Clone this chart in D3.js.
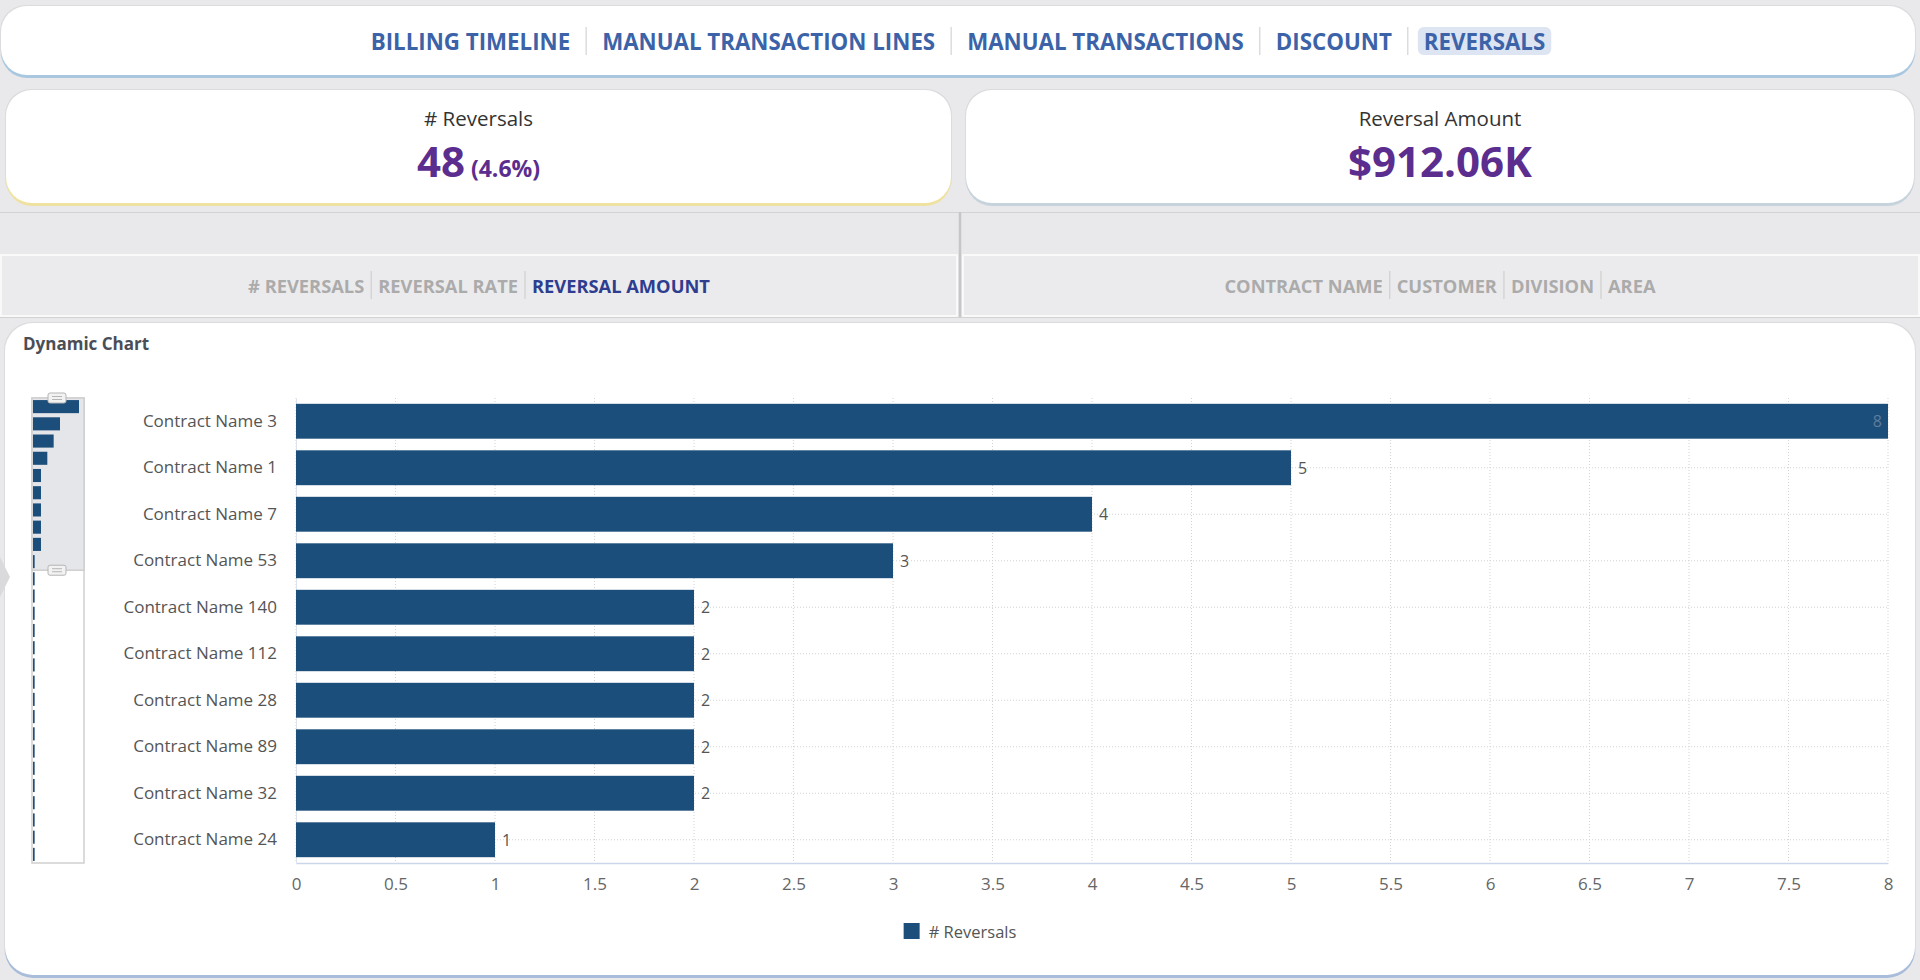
<!DOCTYPE html>
<html>
<head>
<meta charset="utf-8">
<script src="https://cdn.jsdelivr.net/npm/d3@7"></script>
<style>
  html, body { margin: 0; padding: 0; background: #e9e9eb; overflow: hidden; }
  svg { display: block; font-family: "Open Sans", sans-serif; }
</style>
</head>
<body>
<svg id="page"></svg>
<script>
var W = 1920, H = 980;

// ---- data ----
var navTabs = ["BILLING TIMELINE", "MANUAL TRANSACTION LINES", "MANUAL TRANSACTIONS", "DISCOUNT", "REVERSALS"];
var activeNav = "REVERSALS";
var measureTabs = ["# REVERSALS", "REVERSAL RATE", "REVERSAL AMOUNT"];
var activeMeasure = "REVERSAL AMOUNT";
var groupTabs = ["CONTRACT NAME", "CUSTOMER", "DIVISION", "AREA"];

var kpiLabels = ["# Reversals", "Reversal Amount"];
var kpiValues = ["48", "$912.06K"];
var kpiNotes = ["(4.6%)", ""];

var contracts = ["Contract Name 3", "Contract Name 1", "Contract Name 7", "Contract Name 53",
  "Contract Name 140", "Contract Name 112", "Contract Name 28", "Contract Name 89",
  "Contract Name 32", "Contract Name 24"];
var reversals = [8, 5, 4, 3, 2, 2, 2, 2, 2, 1];
// whole list shown in the navigator on the left (first 10 = visible window)
var allReversals = [8, 5, 4, 3, 2, 2, 2, 2, 2, 1, 1, 1, 1, 1, 1, 1, 1, 1, 1, 1, 1, 1, 1, 1, 1, 1, 1];
var xTicks = [0, 0.5, 1, 1.5, 2, 2.5, 3, 3.5, 4, 4.5, 5, 5.5, 6, 6.5, 7, 7.5, 8];
var seriesName = "# Reversals";

var barColor = "#1c4e7b";

var svg = d3.select("#page").attr("width", W).attr("height", H);

svg.append("rect").attr("width", W).attr("height", H).attr("fill", "#e9e9eb");

//draws a white rounded card with a coloured strip under it
var card = function(x, y, w, h, r, shade)
{
    svg.append("rect").attr("x", x - 1).attr("y", y - 1).attr("width", w + 2).attr("height", h + 2)
        .attr("rx", r).attr("fill", "#dcdcdf");
    svg.append("rect").attr("x", x).attr("y", y + 3).attr("width", w).attr("height", h)
        .attr("rx", r).attr("fill", shade);
    svg.append("rect").attr("x", x).attr("y", y).attr("width", w).attr("height", h)
        .attr("rx", r).attr("fill", "#fff");
};

//lays a row of tab labels out round a centre, with thin separators
var tabRow = function(labels, cx, cy, size, gap, color, sepColor, sepH)
{
    var g = svg.append("g");
    var texts = g.selectAll("text").data(labels).join("text")
        .attr("y", cy)
        .attr("dominant-baseline", "central")
        .attr("font-size", size)
        .attr("font-weight", 700)
        .attr("fill", color)
        .text(function(d) { return d; });
    var widths = [];
    texts.each(function() { widths.push(this.getComputedTextLength()); });
    var total = d3.sum(widths) + 2 * gap * (labels.length - 1);
    var x = cx - total / 2;
    var pos = [];
    texts.each(function(d, i) {
        d3.select(this).attr("x", x);
        pos.push({x: x, w: widths[i], d: d});
        if (i < labels.length - 1)
            g.append("line").attr("x1", x + widths[i] + gap).attr("x2", x + widths[i] + gap)
                .attr("y1", cy - sepH / 2).attr("y2", cy + sepH / 2)
                .attr("stroke", sepColor).attr("stroke-width", 1.2);
        x += widths[i] + 2 * gap;
    });
    return {g: g, pos: pos};
};

// ---- top navigation ----
card(1, 6, 1914, 69, 26, "#a9c8e0");
var nav = tabRow(navTabs, 958, 41, 22.3, 16, "#3c63a8", "#d4d4d4", 28);
nav.pos.forEach(function(p) {
    if (p.d === activeNav)
        nav.g.insert("rect", "text").attr("x", p.x - 6).attr("y", 27).attr("width", p.w + 12)
            .attr("height", 28).attr("rx", 6).attr("fill", "#dde5f2");
});

// ---- KPI cards ----
var kpiBoxes = [{x: 6, w: 945, shade: "#efe2a0"}, {x: 966, w: 948, shade: "#c7d3dc"}];
kpiBoxes.forEach(function(b, i) {
    card(b.x, 90, b.w, 113, 26, b.shade);
    var cx = b.x + b.w / 2;
    svg.append("text").attr("x", cx).attr("y", 118).attr("text-anchor", "middle")
        .attr("dominant-baseline", "central").attr("font-size", 20.5).attr("fill", "#333")
        .text(kpiLabels[i]);
    var t = svg.append("text").attr("x", cx).attr("y", 177).attr("text-anchor", "middle")
        .attr("font-weight", 700).attr("fill", "#5b2d8e");
    t.append("tspan").attr("font-size", 42).text(kpiValues[i]);
    if (kpiNotes[i])
        t.append("tspan").attr("font-size", 23).attr("dx", 6).text(kpiNotes[i]);
});

// ---- selector band ----
svg.append("line").attr("x1", 0).attr("x2", W).attr("y1", 212.5).attr("y2", 212.5)
    .attr("stroke", "#d2d2d4");
svg.append("rect").attr("x", 1).attr("y", 255).attr("width", 956).attr("height", 61)
    .attr("fill", "#ebebed").attr("stroke", "#f9f9fa").attr("stroke-width", 2);
svg.append("rect").attr("x", 963).attr("y", 255).attr("width", 956).attr("height", 61)
    .attr("fill", "#ebebed").attr("stroke", "#f9f9fa").attr("stroke-width", 2);
svg.append("line").attr("x1", 0).attr("x2", W).attr("y1", 317.5).attr("y2", 317.5)
    .attr("stroke", "#d2d2d4");
svg.append("line").attr("x1", 960).attr("x2", 960).attr("y1", 212).attr("y2", 317)
    .attr("stroke", "#c6c6c8").attr("stroke-width", 2.5);

tabRow(measureTabs, 479, 285, 18.3, 7,
    function(d) { return d === activeMeasure ? "#2e3d8f" : "#ababab"; }, "#cfcfcf", 28);
tabRow(groupTabs, 1440, 285, 18.3, 7, "#ababab", "#cfcfcf", 28);

// ---- chart card ----
card(5, 323, 1910, 652, 28, "#a9bcd9");

svg.append("text").attr("x", 23).attr("y", 343).attr("dominant-baseline", "central")
    .attr("font-size", 17).attr("font-weight", 700).attr("fill", "#4a4e56")
    .text("Dynamic Chart");

// side handle
svg.append("path").attr("d", "M0,557 L10,577 L0,597 Z").attr("fill", "#dadadc");

var plot = {left: 296, right: 1888, top: 398, bottom: 863};

var x = d3.scaleLinear().domain([0, 8]).range([plot.left, plot.right]);
var y = d3.scaleBand().domain(contracts).range([plot.top, plot.bottom])
    .paddingInner(0.25).paddingOuter(0.125);

var chart = svg.append("g").attr("class", "chart");

// dotted grid
chart.append("g").selectAll("line").data(xTicks).join("line")
    .attr("x1", function(d) { return x(d); }).attr("x2", function(d) { return x(d); })
    .attr("y1", plot.top).attr("y2", plot.bottom)
    .attr("stroke", "#d2d2d2").attr("stroke-dasharray", "1,2");
chart.append("g").selectAll("line").data(contracts).join("line")
    .attr("x1", plot.left).attr("x2", plot.right)
    .attr("y1", function(d) { return y(d) + y.bandwidth() / 2; })
    .attr("y2", function(d) { return y(d) + y.bandwidth() / 2; })
    .attr("stroke", "#d2d2d2").attr("stroke-dasharray", "1,2");

// axes
var xAxis = chart.append("g").attr("transform", "translate(0," + plot.bottom + ")")
    .call(d3.axisBottom(x).tickValues(xTicks).tickSize(0).tickPadding(15)
        .tickFormat(d3.format("~g")));
xAxis.select(".domain").attr("stroke", "#ccd6eb").attr("stroke-width", 1.5);
xAxis.selectAll("text").attr("font-size", 17).attr("fill", "#666")
    .attr("font-family", "Open Sans, sans-serif");

var yAxis = chart.append("g").attr("transform", "translate(" + plot.left + ",0)")
    .call(d3.axisLeft(y).tickSize(0).tickPadding(19));
yAxis.select(".domain").attr("stroke", "#dde3ec");
yAxis.selectAll("text").attr("font-size", 17).attr("fill", "#555")
    .attr("font-family", "Open Sans, sans-serif");

// bars
var data = contracts.map(function(c, i) { return {name: c, value: reversals[i]}; });
var xMax = x.domain()[1];

chart.append("g").selectAll("rect").data(data).join("rect")
    .attr("x", x(0)).attr("y", function(d) { return y(d.name); })
    .attr("width", function(d) { return x(d.value) - x(0); })
    .attr("height", y.bandwidth())
    .attr("fill", barColor);

chart.append("g").selectAll("text").data(data).join("text")
    .attr("x", function(d) { return d.value >= xMax ? x(d.value) - 6 : x(d.value) + 7; })
    .attr("y", function(d) { return y(d.name) + y.bandwidth() / 2; })
    .attr("text-anchor", function(d) { return d.value >= xMax ? "end" : "start"; })
    .attr("dominant-baseline", "central")
    .attr("font-size", 16)
    .attr("fill", function(d) { return d.value >= xMax ? "#5f7c99" : "#555"; })
    .text(function(d) { return d.value; });

// ---- navigator ----
var nav2 = {left: 32, width: 52};
var ny = d3.scaleBand().domain(d3.range(allReversals.length)).range([plot.top, plot.bottom])
    .paddingInner(0.24).paddingOuter(0.12);
var nx = d3.scaleLinear().domain([0.74, 8]).range([nav2.left + 1, nav2.left + 47]);

svg.append("rect").attr("x", nav2.left).attr("y", plot.top).attr("width", nav2.width)
    .attr("height", plot.bottom - plot.top).attr("fill", "#fff").attr("stroke", "#cfcfcf").attr("stroke-width", 1.5);
var selBottom = plot.top + ny.step() * contracts.length;
svg.append("rect").attr("x", nav2.left).attr("y", plot.top).attr("width", nav2.width)
    .attr("height", selBottom - plot.top).attr("fill", "#e5e6e9").attr("stroke", "#cfcfcf").attr("stroke-width", 1.5);

svg.append("g").selectAll("rect").data(allReversals).join("rect")
    .attr("x", nx.range()[0])
    .attr("y", function(d, i) { return ny(i); })
    .attr("width", function(d) { return nx(d) - nx.range()[0]; })
    .attr("height", ny.bandwidth())
    .attr("fill", barColor);

[plot.top, selBottom].forEach(function(hy) {
    var hg = svg.append("g");
    hg.append("rect").attr("x", 48).attr("y", hy - 5).attr("width", 18).attr("height", 10)
        .attr("rx", 2).attr("fill", "#f2f2f2").attr("stroke", "#b5b5b5");
    [-1.5, 1.5].forEach(function(o) {
        hg.append("line").attr("x1", 52).attr("x2", 62).attr("y1", hy + o).attr("y2", hy + o)
            .attr("stroke", "#b5b5b5");
    });
});

// ---- legend ----
var legend = svg.append("g");
legend.append("rect").attr("width", 16).attr("height", 16).attr("y", -8).attr("fill", barColor);
var lt = legend.append("text").attr("x", 25).attr("dominant-baseline", "central")
    .attr("font-size", 16.5).attr("fill", "#555").text(seriesName);
var lw = 25 + lt.node().getComputedTextLength();
legend.attr("transform", "translate(" + (960 - lw / 2) + ",931)");
</script>
</body>
</html>
